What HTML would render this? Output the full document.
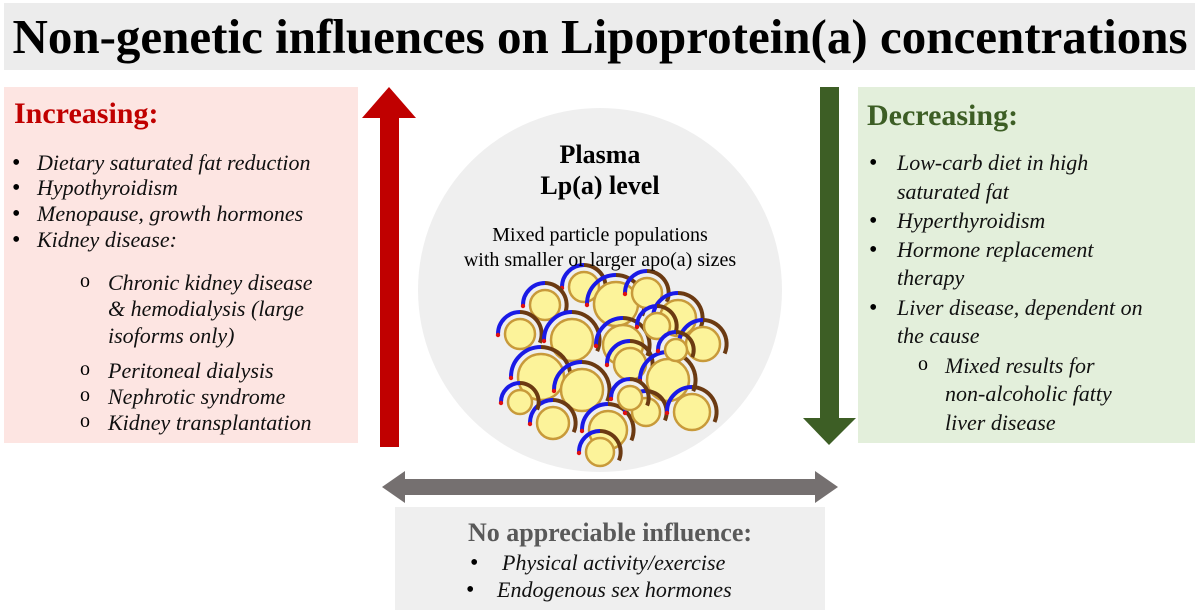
<!DOCTYPE html>
<html><head><meta charset="utf-8"><style>
body{margin:0;width:1200px;height:615px;background:#fff;position:relative;overflow:hidden;font-family:"Liberation Serif","Times New Roman",serif}
.a{position:absolute;white-space:nowrap;line-height:26px}
.i{font-style:italic;font-size:22px;color:#111}
.b{position:absolute;font-size:24px;line-height:26px}
</style></head><body>
<div style="position:absolute;left:4px;top:3px;width:1191px;height:67px;background:#ececec"></div>
<div class="a" style="left:0;width:1200px;text-align:center;top:12px;line-height:50px;font-size:49px;font-weight:bold;color:#000">Non-genetic influences on Lipoprotein(a) concentrations</div>

<div style="position:absolute;left:4px;top:87px;width:354px;height:356px;background:#fde5e2"></div>
<div style="position:absolute;left:858px;top:87px;width:337px;height:356px;background:#e3efdb"></div>
<div style="position:absolute;left:418px;top:108px;width:364px;height:364px;border-radius:50%;background:#efefef"></div>
<div style="position:absolute;left:395px;top:507px;width:430px;height:103px;background:#efefef"></div>

<svg style="position:absolute;left:0;top:0" width="1200" height="615">
<polygon points="389,87 416,118 399,118 399,447 380,447 380,118 362,118" fill="#c00000"/>
<polygon points="829,445 856,418 839,418 839,87 820,87 820,418 803,418" fill="#3d5e25"/>
<polygon points="382,487 405,471 405,479 815,479 815,471 838,487 815,503 815,495 405,495 405,503" fill="#757070"/>
<g id="p"></g>
</svg>

<div class="a" style="left:14px;top:96px;font-size:30px;line-height:36px;font-weight:bold;color:#c00000">Increasing:</div>
<div class="b" style="left:12px;top:150px">•</div><div class="a i" style="left:37px;top:150px">Dietary saturated fat reduction</div>
<div class="b" style="left:12px;top:175px">•</div><div class="a i" style="left:37px;top:175px">Hypothyroidism</div>
<div class="b" style="left:12px;top:201px">•</div><div class="a i" style="left:37px;top:201px">Menopause, growth hormones</div>
<div class="b" style="left:12px;top:227px">•</div><div class="a i" style="left:37px;top:227px">Kidney disease:</div>
<div class="b" style="left:80px;top:268px;font-size:20px">o</div><div class="a i" style="left:108px;top:270px">Chronic kidney disease</div>
<div class="a i" style="left:108px;top:296px">&amp; hemodialysis (large</div>
<div class="a i" style="left:108px;top:323px">isoforms only)</div>
<div class="b" style="left:80px;top:356px;font-size:20px">o</div><div class="a i" style="left:108px;top:358px">Peritoneal dialysis</div>
<div class="b" style="left:80px;top:382px;font-size:20px">o</div><div class="a i" style="left:108px;top:384px">Nephrotic syndrome</div>
<div class="b" style="left:80px;top:408px;font-size:20px">o</div><div class="a i" style="left:108px;top:410px">Kidney transplantation</div>

<div class="a" style="left:867px;top:98px;font-size:30px;line-height:36px;font-weight:bold;color:#3d5e25">Decreasing:</div>
<div class="b" style="left:869px;top:150px">•</div><div class="a i" style="left:897px;top:150px">Low-carb diet in high</div>
<div class="a i" style="left:897px;top:179px">saturated fat</div>
<div class="b" style="left:869px;top:208px">•</div><div class="a i" style="left:897px;top:208px">Hyperthyroidism</div>
<div class="b" style="left:869px;top:237px">•</div><div class="a i" style="left:897px;top:237px">Hormone replacement</div>
<div class="a i" style="left:897px;top:265px">therapy</div>
<div class="b" style="left:869px;top:295px">•</div><div class="a i" style="left:897px;top:295px">Liver disease, dependent on</div>
<div class="a i" style="left:897px;top:323px">the cause</div>
<div class="b" style="left:918px;top:351px;font-size:20px">o</div><div class="a i" style="left:945px;top:353px">Mixed results for</div>
<div class="a i" style="left:945px;top:381px">non-alcoholic fatty</div>
<div class="a i" style="left:945px;top:410px">liver disease</div>

<div class="a" style="left:418px;width:364px;text-align:center;top:139px;font-size:26px;line-height:32px;font-weight:bold">Plasma</div>
<div class="a" style="left:418px;width:364px;text-align:center;top:170px;font-size:26px;line-height:32px;font-weight:bold">Lp(a) level</div>
<div class="a" style="left:418px;width:364px;text-align:center;top:222px;font-size:20px">Mixed particle populations</div>
<div class="a" style="left:418px;width:364px;text-align:center;top:247px;font-size:20px">with smaller or larger apo(a) sizes</div>

<div class="a" style="left:395px;width:430px;text-align:center;top:517px;font-size:26px;line-height:32px;font-weight:bold;color:#595959">No appreciable influence:</div>
<div class="b" style="left:470px;top:550px">•</div><div class="a i" style="left:502px;top:550px">Physical activity/exercise</div>
<div class="b" style="left:466px;top:577px">•</div><div class="a i" style="left:497px;top:577px">Endogenous sex hormones</div>

<script>
var P=[[584,287,15],[616,304,22],[647,293,15],[678,318,18],[545,305,15],[520,334,15],[572,340,21],[623,345,20],[657,326,13],[703,344,17],[541,377,23],[582,390,21],[630,364,16],[668,380,21],[553,423,16],[608,430,19],[646,412,14],[630,398,12],[692,412,18],[520,402,12],[676,350,11],[600,452,14]];
var g=document.getElementById('p'),s='';
P.forEach(function(p){var x=p[0],y=p[1],r=p[2],R=r+7;
s+='<circle cx="'+x+'" cy="'+y+'" r="'+r+'" fill="#fcf39a" stroke="#c89a3a" stroke-width="2.5"/>';
s+='<path d="M'+(x-R)+','+y+' A'+R+','+R+' 0 0 1 '+x+','+(y-R)+'" fill="none" stroke="#1a1ae6" stroke-width="4"/>';
s+='<path d="M'+x+','+(y-R)+' A'+R+','+R+' 0 0 1 '+(x+R*0.9)+','+(y+R*0.4)+'" fill="none" stroke="#6b3a12" stroke-width="4"/>';
s+='<circle cx="'+(x-R)+'" cy="'+(y+1)+'" r="2.2" fill="#e01010"/>';});
g.innerHTML=s;
</script>
</body></html>
